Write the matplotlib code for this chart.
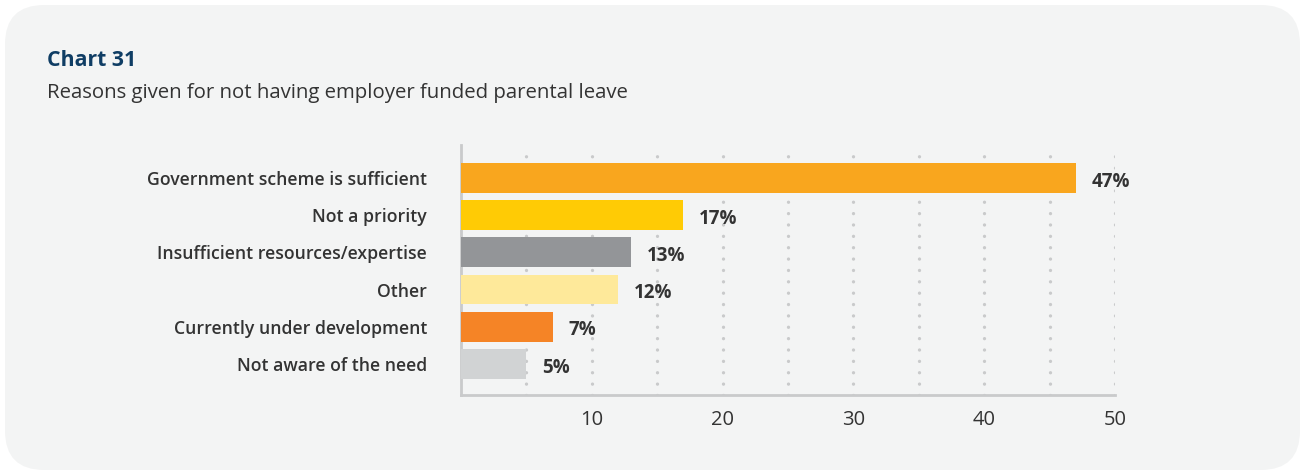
import matplotlib
matplotlib.use("Agg")
import matplotlib.pyplot as plt
from matplotlib.patches import FancyBboxPatch

categories = ["Government scheme is sufficient", "Not a priority",
              "Insufficient resources/expertise", "Other",
              "Currently under development", "Not aware of the need"]
values = [47, 17, 13, 12, 7, 5]
colors = ["#f9a61e", "#ffcb05", "#939598", "#fee99a", "#f58426", "#d1d3d4"]
xticks = [10, 20, 30, 40, 50]
gridx = [5, 10, 15, 20, 25, 30, 35, 40, 45, 50]

plt.rcParams['font.family'] = ['Open Sans', 'DejaVu Sans']
W, H = 1309, 475
fig = plt.figure(figsize=(W/100, H/100), dpi=100)
fig.patch.set_facecolor("white")
bg = FancyBboxPatch((5/W, 5/H), 1295/W, 465/H,
                    boxstyle="round,pad=0,rounding_size=0.03",
                    transform=fig.transFigure, facecolor="#f3f4f4",
                    edgecolor="none", mutation_aspect=W/H, zorder=-10)
fig.patches.append(bg)

fig.text(47/W, 1-60/H, "Chart 31", fontsize=15.3, fontweight="bold",
         color="#0f3d64", va="center", ha="left")
fig.text(47/W, 1-93/H, "Reasons given for not having employer funded parental leave",
         fontsize=14.7, color="#333333", va="center", ha="left")

ax = fig.add_axes([461/W, 1-395/H, (1115-461)/W, (395-145)/H])
ax.set_facecolor("none")
ypos = list(range(len(categories)))
ax.barh(ypos, values, height=0.8, color=colors, zorder=3)
for y, v in zip(ypos, values):
    ax.text(v + 1.2, y + 0.1, f"{v}%", va="center", ha="left", fontsize=13.5,
            fontweight="bold", color="#333333")
for g in gridx:
    ax.axvline(g, color="#c9cacb", linestyle=(0, (0.01, 3.4)), linewidth=2.4,
               zorder=1, dash_capstyle="round")
ax.set_xlim(0, 50)
ax.set_ylim(5.84, -0.89)
ax.set_yticks(ypos)
ax.set_yticklabels(categories, fontsize=12.7, fontweight="semibold", color="#333333")
ax.set_xticks(xticks)
ax.set_xticklabels([str(t) for t in xticks], fontsize=14.5, color="#333333")
ax.tick_params(axis="both", length=0)
ax.tick_params(axis="y", pad=24.5)
ax.tick_params(axis="x", pad=11)
for s in ["top", "right"]:
    ax.spines[s].set_visible(False)
for s in ["left", "bottom"]:
    ax.spines[s].set_color("#c9cacb")
    ax.spines[s].set_linewidth(2)

fig.savefig("out.png", dpi=100, facecolor="white")
